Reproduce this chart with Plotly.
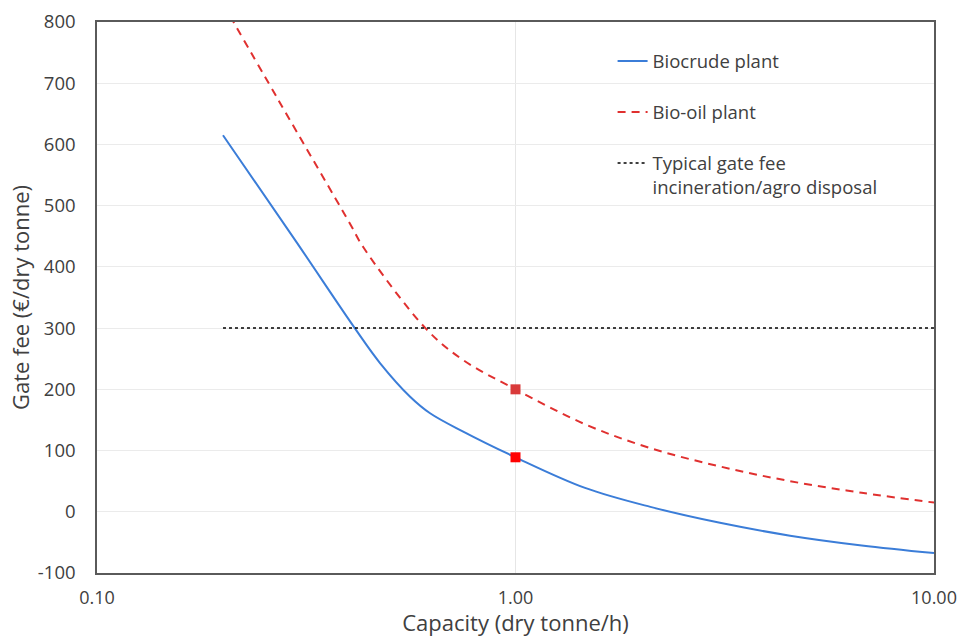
import plotly.graph_objects as go

# Capacity (dry tonne/h) and gate fee (EUR/dry tonne)
biocrude_x = [0.2, 0.3, 0.413, 0.4745, 0.56, 0.625, 0.75, 1.0, 1.466, 2.1, 3.08, 4.53, 6.72, 10.0]
biocrude_y = [615, 440, 300, 243, 188, 161, 131, 89, 39, 8, -18, -39, -55, -67.5]

biooil_x = [0.2, 0.271, 0.402, 0.433, 0.613, 0.749, 1.0, 1.466, 2.1, 3.08, 4.53, 6.72, 10.0]
biooil_y = [830, 673, 471, 432, 298, 248, 200, 143, 104, 74, 50, 31, 15]

typical_x = [0.2, 10.0]
typical_y = [300, 300]

highlight_x = [1.0]
biocrude_highlight = [89]
biooil_highlight = [200]

x_tickvals = [0.1, 1, 10]
x_ticktext = ["0.10", "1.00", "10.00"]
y_tickvals = [-100, 0, 100, 200, 300, 400, 500, 600, 700, 800]
y_ticktext = ["-100", "0", "100", "200", "300", "400", "500", "600", "700", "800"]

FONT = "Open Sans"
TXT = "#404040"

fig = go.Figure()
fig.add_trace(go.Scatter(
    x=biocrude_x, y=biocrude_y, mode="lines", name="Biocrude plant",
    line=dict(color="#3B7DD8", width=2, shape="spline", smoothing=1.0),
    legendgroup="a"))
fig.add_trace(go.Scatter(
    x=biooil_x, y=biooil_y, mode="lines", name="Bio-oil plant",
    line=dict(color="#E0302F", width=2, dash="8px,6px", shape="spline", smoothing=1.0),
    legendgroup="b"))
fig.add_trace(go.Scatter(
    x=typical_x, y=typical_y, mode="lines",
    name="Typical gate fee<br>incineration/agro disposal",
    line=dict(color="#000000", width=1.5, dash="dot"),
    legendgroup="c"))
fig.add_trace(go.Scatter(
    x=highlight_x, y=biooil_highlight, mode="markers", showlegend=False,
    marker=dict(symbol="square", size=10, color="#D93A3A")))
fig.add_trace(go.Scatter(
    x=highlight_x, y=biocrude_highlight, mode="markers", showlegend=False,
    marker=dict(symbol="square", size=10, color="#FF0000")))

fig.update_layout(
    width=959, height=637,
    margin=dict(l=97, r=25, t=22, b=64, autoexpand=False),
    plot_bgcolor="white", paper_bgcolor="white",
    font=dict(family=FONT, size=18, color=TXT),
    legend=dict(x=0.616, y=0.963, xanchor="left", yanchor="top",
                bgcolor="rgba(0,0,0,0)", tracegroupgap=24, valign="top",
                font=dict(family=FONT, size=18.5, color=TXT)),
    xaxis=dict(type="log", range=[-1, 1], tickvals=x_tickvals, ticktext=x_ticktext,
               showgrid=True, gridcolor="#E6E6E6", gridwidth=1,
               showline=True, linecolor="#5A5A5A", linewidth=1.5, mirror=True,
               ticks="", ticklabelstandoff=8, automargin=False,
               ticklabeloverflow="allow",
               tickfont=dict(family=FONT, size=18, color=TXT),
               title=dict(text="Capacity (dry tonne/h)", standoff=5,
                          font=dict(family=FONT, size=22, color=TXT)),
               zeroline=False),
    yaxis=dict(range=[-100, 800], tickvals=y_tickvals, ticktext=y_ticktext,
               showgrid=True, gridcolor="#EBEBEB", gridwidth=1,
               showline=True, linecolor="#5A5A5A", linewidth=1.5, mirror=True,
               ticks="", ticklabelstandoff=16, automargin=False,
               tickfont=dict(family=FONT, size=18.5, color=TXT),
               title=dict(text="Gate fee (€/dry tonne)", standoff=2,
                          font=dict(family=FONT, size=22, color=TXT)),
               zeroline=False),
)

fig.write_html("out.html", config={"displayModeBar": False},
               post_script="document.body.style.margin='0';document.body.style.overflow='hidden';")
